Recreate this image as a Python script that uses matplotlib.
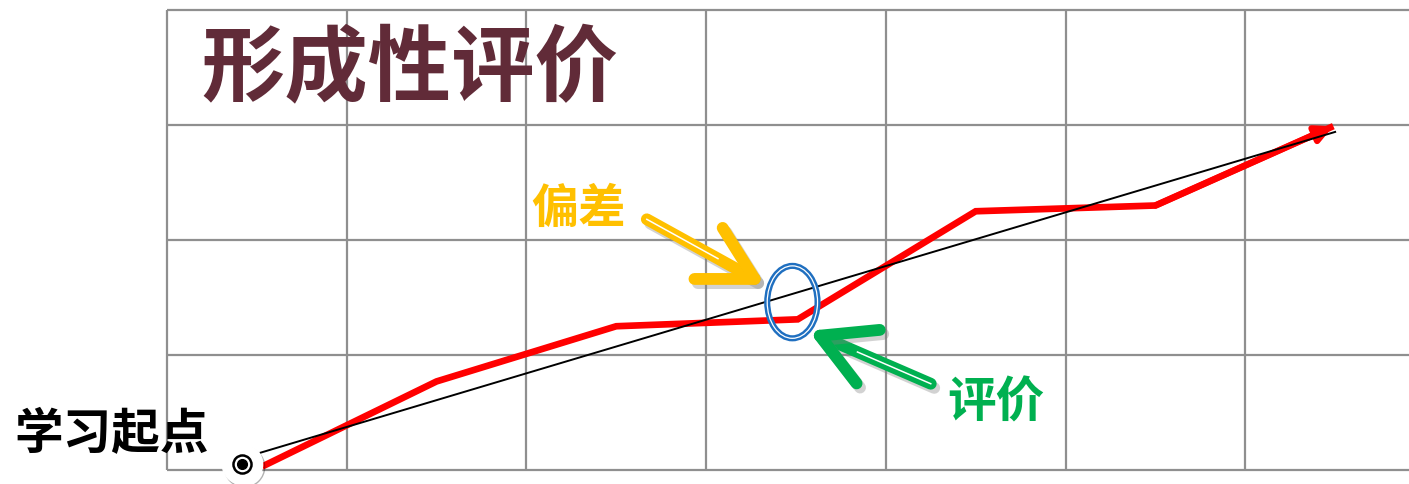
import matplotlib
matplotlib.use("Agg")
import matplotlib.pyplot as plt
import matplotlib.patheffects as pe
from matplotlib.patches import Ellipse

plt.rcParams['font.family'] = ['Noto Sans CJK SC', 'DejaVu Sans']

# grid cells: 7 columns x 4 rows
grid_cols = [0, 1, 2, 3, 4, 5, 6]
grid_rows = [0, 1, 2, 3, 4]

# actual learning path (red) and planned path (black)
path_x = [0.53, 1.50, 2.50, 3.51, 4.50, 5.50, 6.49]
path_y = [0.03, 0.77, 1.25, 1.31, 2.25, 2.30, 2.99]
plan_x = [0.52, 6.50]
plan_y = [0.15, 2.94]

start_pt = (0.42, 0.05)
check_pt = (3.48, 1.46)          # where evaluation happens
dev_arrow = [(2.67, 2.18), (3.33, 1.61)]   # tail, tip
eval_arrow = [(4.25, 0.75), (3.57, 1.21)]

title = "形成性评价"
start_label = "学习起点"
dev_label = "偏差"
eval_label = "评价"

fig = plt.figure(figsize=(14.09, 4.85), dpi=100)
ax = fig.add_axes([0, 0, 1, 1])
ax.set_xlim(-0.929, 6.911)
ax.set_ylim(-0.122, 4.096)
ax.axis("off")

grid_color = "#8f8f8f"
ax.vlines(grid_cols, 0, 4, color=grid_color, lw=1.6, zorder=1)
ax.hlines(grid_rows, 0, 7.2, color=grid_color, lw=1.6, zorder=1)

ax.plot(plan_x, plan_y, color="black", lw=1.4, zorder=3)
ax.plot(path_x, path_y, color="#ff0000", lw=4.8, solid_joinstyle="miter",
        solid_capstyle="butt", zorder=2)
ax.annotate("", xy=(path_x[-1], path_y[-1]), xytext=(path_x[-2], path_y[-2]),
            arrowprops=dict(arrowstyle="-|>,head_length=1.0,head_width=0.5",
                            color="#ff0000", lw=4.5, shrinkA=0, shrinkB=0),
            zorder=2)

# start marker
ax.plot(*start_pt, "o", ms=29, mfc="white", mec="white", zorder=4,
        path_effects=[pe.SimpleLineShadow(offset=(1.5, -2), alpha=0.3), pe.Normal()])
ax.plot(*start_pt, "o", ms=13, mfc="white", mec="black", mew=1.8, zorder=5)
ax.plot(*start_pt, "o", ms=7, color="black", zorder=6)

# evaluation ellipse (double line)
ax.add_patch(Ellipse(check_pt, 0.28, 0.63, fill=False, ec="#1f6fc0", lw=4.4, zorder=6))
ax.add_patch(Ellipse(check_pt, 0.28, 0.63, fill=False, ec="white", lw=0.9, zorder=7))

shadow = [pe.Stroke(offset=(2.5, -3), foreground="#808080", alpha=0.35), pe.Normal()]


def big_arrow(tail, tip, color):
    ax.annotate("", xy=tip, xytext=tail,
                arrowprops=dict(arrowstyle="->,head_length=3.8,head_width=2.1",
                                color=color, lw=8.5, shrinkA=0, shrinkB=0,
                                capstyle="round", joinstyle="round",
                                path_effects=shadow),
                zorder=8)
    mid = (tail[0] + 0.6 * (tip[0] - tail[0]), tail[1] + 0.6 * (tip[1] - tail[1]))
    ax.plot([tail[0], mid[0]], [tail[1], mid[1]], color="white", lw=1.1, zorder=9)


big_arrow(dev_arrow[0], dev_arrow[1], "#ffc000")
big_arrow(eval_arrow[0], eval_arrow[1], "#00b050")

ax.text(0.19, 3.48, title, fontsize=60, fontweight="bold", color="#612b38",
        ha="left", va="center", zorder=10)
ax.text(-0.31, 0.32, start_label, fontsize=35, fontweight="bold", color="black",
        ha="center", va="center", zorder=10)
ax.text(2.29, 2.28, dev_label, fontsize=34, fontweight="bold", color="#ffc000",
        ha="center", va="center", zorder=10)
ax.text(4.61, 0.59, eval_label, fontsize=35, fontweight="bold", color="#00b050",
        ha="center", va="center", zorder=10)

fig.savefig("out.png", dpi=100)
